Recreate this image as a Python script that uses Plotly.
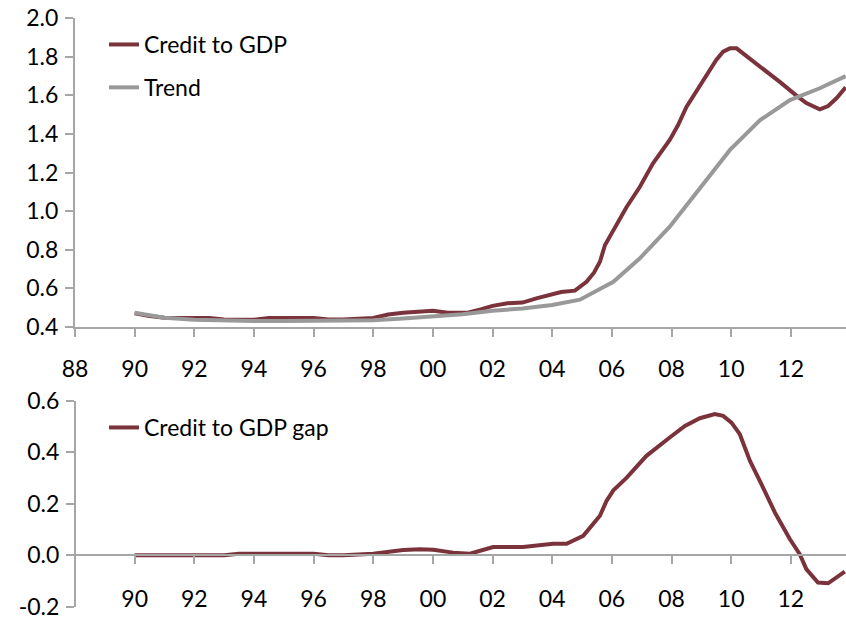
import plotly.graph_objects as go

# Credit to GDP ratio (quarterly readings, decimal years)
credit_x = [1990.0, 1990.5, 1991.0, 1992.0, 1992.5, 1993.0, 1993.5, 1994.0, 1994.5, 1995.0,
            1996.0, 1996.5, 1997.0, 1998.0, 1998.5, 1999.0, 1999.5, 2000.0, 2000.5, 2001.2,
            2001.6, 2002.0, 2002.5, 2003.0, 2003.5, 2004.0, 2004.3, 2004.76, 2004.93, 2005.15,
            2005.4, 2005.6, 2005.77, 2006.05, 2006.49, 2006.94, 2007.38, 2007.94, 2008.22, 2008.5,
            2008.78, 2009.17, 2009.5, 2009.73, 2009.96, 2010.18, 2010.63, 2011.18, 2011.63, 2012.18,
            2012.52, 2012.97, 2013.25, 2013.53, 2013.84]
credit = [0.470, 0.455, 0.447, 0.445, 0.445, 0.437, 0.436, 0.436, 0.445, 0.445,
          0.445, 0.437, 0.437, 0.445, 0.463, 0.472, 0.478, 0.483, 0.472, 0.474,
          0.490, 0.508, 0.522, 0.525, 0.548, 0.570, 0.580, 0.587, 0.607, 0.633,
          0.680, 0.737, 0.824, 0.900, 1.020, 1.126, 1.248, 1.369, 1.446, 1.540,
          1.610, 1.706, 1.784, 1.827, 1.844, 1.844, 1.790, 1.730, 1.670, 1.600,
          1.560, 1.528, 1.545, 1.585, 1.642]

# Long-run trend of the ratio
trend_x = [1990.0, 1991.0, 1992.0, 1993.0, 1994.0, 1995.0, 1996.0, 1997.0, 1998.0, 1999.0,
           2000.0, 2001.0, 2002.0, 2003.0, 2004.0, 2004.93, 2006.05, 2006.94, 2007.94, 2008.83,
           2009.96, 2010.97, 2011.97, 2012.97, 2013.84]
trend = [0.472, 0.447, 0.436, 0.431, 0.430, 0.430, 0.430, 0.430, 0.434, 0.443,
         0.453, 0.465, 0.483, 0.494, 0.513, 0.540, 0.633, 0.755, 0.919, 1.092,
         1.317, 1.472, 1.576, 1.637, 1.700]

# Gap between the ratio and its trend
gap_x = [1990.0, 1991.0, 1992.0, 1993.0, 1993.5, 1994.5, 1996.0, 1996.5, 1997.0, 1998.0,
         1999.0, 1999.57, 2000.01, 2000.68, 2001.24, 2002.02, 2003.02, 2004.03, 2004.48, 2005.04,
         2005.6, 2005.82, 2006.05, 2006.49, 2007.16, 2007.94, 2008.45, 2008.95, 2009.45, 2009.73,
         2010.01, 2010.29, 2010.63, 2010.96, 2011.47, 2011.97, 2012.3, 2012.52, 2012.91, 2013.25,
         2013.81]
gap = [0.000, 0.000, 0.000, 0.000, 0.006, 0.006, 0.006, 0.000, 0.000, 0.006,
       0.020, 0.023, 0.021, 0.010, 0.006, 0.032, 0.032, 0.044, 0.044, 0.075,
       0.153, 0.211, 0.252, 0.300, 0.386, 0.457, 0.502, 0.532, 0.548, 0.541,
       0.515, 0.470, 0.366, 0.289, 0.165, 0.062, 0.004, -0.054, -0.106, -0.109,
       -0.064]

top_ticks = list(range(1988, 2013, 2))
bottom_ticks = list(range(1990, 2013, 2))
top_yticks = [0.4, 0.6, 0.8, 1.0, 1.2, 1.4, 1.6, 1.8, 2.0]
bottom_yticks = [-0.2, 0.0, 0.2, 0.4, 0.6]


def year_labels(vals):
    return [f"{v % 100:02d}" for v in vals]


def value_labels(vals):
    # plain hyphen for negatives
    return [f"{v:.1f}".replace("\u2212", "-") for v in vals]


MAROON = "#7B333B"
GREY = "#999999"
AXIS = "#A6A6A6"
FONT = dict(family="Lato, 'Noto Sans', sans-serif", size=23, color="#000000")

fig = go.Figure()
fig.add_trace(go.Scatter(x=credit_x, y=credit, mode="lines", name="Credit to GDP",
                         line=dict(color=MAROON, width=4), xaxis="x", yaxis="y",
                         legend="legend", legendgroup="credit"))
fig.add_trace(go.Scatter(x=trend_x, y=trend, mode="lines", name="Trend",
                         line=dict(color=GREY, width=4), xaxis="x", yaxis="y",
                         legend="legend", legendgroup="trend"))
fig.add_trace(go.Scatter(x=gap_x, y=gap, mode="lines", name="Credit to GDP gap",
                         line=dict(color=MAROON, width=4), xaxis="x2", yaxis="y2",
                         legend="legend2", legendgroup="gap"))

W, H = 846, 621
x_left = 75 / W
x_range = [1988, 2013.85]
top_lo, top_hi = 1 - 326.7 / H, 1 - 18.3 / H
bot_lo, bot_hi = 1 - 606.7 / H, 1 - 400.7 / H
zero_pos = bot_lo + (0 - (-0.2)) / 0.8 * (bot_hi - bot_lo)

axis_common = dict(showgrid=False, zeroline=False, showline=True, linecolor=AXIS,
                   linewidth=2, ticks="outside", tickcolor=AXIS, tickwidth=2,
                   ticklen=8, tickfont=FONT, automargin=False)

fig.update_layout(
    template="none",
    width=W, height=H,
    margin=dict(l=0, r=0, t=0, b=0, autoexpand=False),
    paper_bgcolor="white", plot_bgcolor="white",
    font=FONT,
    showlegend=True,
    xaxis=dict(domain=[x_left, 1], range=x_range, anchor="y",
               tickvals=top_ticks, ticktext=year_labels(top_ticks),
               ticklabelstandoff=13, **axis_common),
    yaxis=dict(domain=[top_lo, top_hi], range=[0.4, 2.0], anchor="x",
               tickvals=top_yticks, ticktext=value_labels(top_yticks),
               ticklabelstandoff=2, **axis_common),
    xaxis2=dict(domain=[x_left, 1], range=x_range, anchor="free", position=zero_pos,
                tickvals=bottom_ticks, ticktext=year_labels(bottom_ticks),
                ticklabelstandoff=15, **axis_common),
    yaxis2=dict(domain=[bot_lo, bot_hi], range=[-0.2, 0.6], anchor="free",
                position=x_left, tickvals=bottom_yticks,
                ticktext=value_labels(bottom_yticks),
                ticklabelstandoff=2, **axis_common),
    legend=dict(x=104 / W, y=1 - 23 / H, xanchor="left", yanchor="top",
                bgcolor="rgba(0,0,0,0)", font=FONT, tracegroupgap=10,
                itemwidth=30),
    legend2=dict(x=104 / W, y=1 - 406 / H, xanchor="left", yanchor="top",
                 bgcolor="rgba(0,0,0,0)", font=FONT, itemwidth=30),
)

fig.write_html("out.html")
